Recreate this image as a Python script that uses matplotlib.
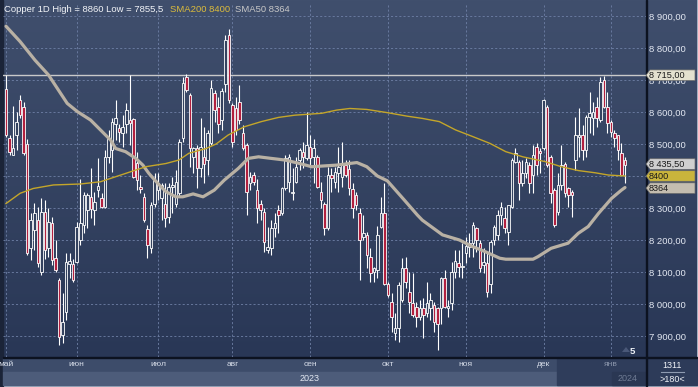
import matplotlib
matplotlib.use('Agg')
import matplotlib.pyplot as plt
import numpy as np
from matplotlib.patches import Rectangle, Polygon

plt.rcParams['font.family'] = ['Liberation Sans', 'DejaVu Sans']

# ---------------- data ----------------
opens = [8671, 8518, 8466, 8528, 8637, 8617, 8499, 8174, 8231, 8264,
         8101, 8288, 8174, 8254, 8143, 8075, 7903, 7976, 8125, 8125,
         8132, 8200, 8247, 8294, 8335, 8294, 8356, 8330, 8304, 8460,
         8481, 8564, 8549, 8533, 8564, 8575, 8578, 8440, 8367, 8335,
         8233, 8174, 8314, 8356, 8330, 8314, 8273, 8366, 8314, 8346,
         8518, 8710, 8653, 8460, 8486, 8424, 8460, 8450, 8502, 8658,
         8616, 8575, 8689, 8840, 8622, 8611, 8632, 8533, 8497, 8377,
         8403, 8356, 8314, 8288, 8169, 8174, 8236, 8293, 8283, 8361,
         8380, 8346, 8382, 8450, 8476, 8455, 8491, 8460, 8460, 8351,
         8312, 8236, 8403, 8382, 8408, 8398, 8434, 8421, 8359, 8340,
         8283, 8210, 8215, 8148, 8101, 8106, 8241, 8283, 8062, 8005,
         7908, 7924, 8012, 8111, 8038, 8002, 7991, 7960, 7986, 7971,
         7986, 7997, 7986, 7986, 8080, 7986, 8002, 8101, 8129, 8116,
         8158, 8179, 8190, 8238, 8190, 8122, 8127, 8064, 8200, 8216,
         8278, 8268, 8226, 8304, 8445, 8445, 8377, 8408, 8434, 8403,
         8491, 8479, 8486, 8617, 8460, 8356, 8288, 8372, 8439, 8361,
         8349, 8450, 8523, 8528, 8481, 8585, 8580, 8617, 8575, 8700,
         8617, 8570, 8533, 8528, 8471, 8450]
highs = [8715, 8528, 8620, 8601, 8653, 8632, 8516, 8283, 8315, 8304,
         8330, 8325, 8299, 8273, 8200, 8080, 8033, 8158, 8158, 8142,
         8257, 8392, 8351, 8346, 8424, 8351, 8455, 8346, 8481, 8544,
         8580, 8637, 8564, 8590, 8627, 8715, 8580, 8476, 8403, 8346,
         8247, 8320, 8408, 8408, 8377, 8377, 8377, 8398, 8418, 8517,
         8710, 8720, 8658, 8491, 8497, 8580, 8554, 8544, 8700, 8669,
         8648, 8674, 8840, 8860, 8627, 8648, 8684, 8559, 8502, 8413,
         8413, 8392, 8325, 8299, 8241, 8262, 8283, 8309, 8366, 8465,
         8470, 8424, 8460, 8486, 8507, 8601, 8528, 8517, 8466, 8382,
         8320, 8429, 8424, 8429, 8491, 8507, 8450, 8450, 8377, 8351,
         8299, 8278, 8226, 8174, 8117, 8243, 8335, 8377, 8069, 8033,
         7971, 8069, 8143, 8148, 8101, 8096, 8007, 8012, 8018, 8070,
         8033, 8007, 7991, 8085, 8106, 8012, 8132, 8169, 8169, 8190,
         8210, 8221, 8257, 8241, 8200, 8174, 8158, 8200, 8247, 8294,
         8320, 8304, 8309, 8455, 8486, 8450, 8450, 8455, 8445, 8497,
         8502, 8486, 8642, 8622, 8466, 8361, 8408, 8497, 8445, 8366,
         8356, 8585, 8611, 8559, 8590, 8663, 8632, 8648, 8710, 8712,
         8663, 8575, 8544, 8528, 8502, 8460]
lows = [8523, 8466, 8466, 8481, 8580, 8466, 8153, 8137, 8169, 8117,
        8090, 8142, 8148, 8122, 8101, 7872, 7877, 7950, 8080, 8070,
        8127, 8184, 8221, 8236, 8268, 8247, 8335, 8299, 8299, 8440,
        8413, 8512, 8507, 8491, 8533, 8497, 8393, 8356, 8346, 8257,
        8143, 8158, 8304, 8325, 8262, 8241, 8252, 8283, 8304, 8335,
        8507, 8663, 8429, 8408, 8361, 8398, 8377, 8403, 8497, 8570,
        8533, 8544, 8663, 8627, 8491, 8528, 8564, 8481, 8278, 8356,
        8372, 8252, 8262, 8163, 8158, 8153, 8210, 8221, 8278, 8356,
        8351, 8325, 8377, 8418, 8424, 8450, 8429, 8377, 8361, 8299,
        8215, 8231, 8351, 8361, 8351, 8367, 8398, 8340, 8268, 8294,
        8075, 8200, 8111, 8069, 8069, 8080, 8236, 8059, 8023, 7913,
        7887, 7882, 8007, 8049, 7971, 7960, 7929, 7950, 7893, 7960,
        7950, 7913, 7855.5, 7939, 7986, 7960, 7981, 8080, 8085, 8080,
        8127, 8148, 8148, 8163, 8101, 8096, 8023, 8033, 8184, 8200,
        8247, 8221, 8184, 8299, 8440, 8325, 8370, 8395, 8346, 8346,
        8403, 8408, 8481, 8429, 8315, 8241, 8278, 8356, 8335, 8304,
        8273, 8418, 8460, 8450, 8460, 8533, 8528, 8554, 8570, 8611,
        8533, 8523, 8491, 8450, 8403, 8377]
closes = [8528, 8476, 8486, 8570, 8590, 8471, 8158, 8262, 8283, 8129,
          8288, 8168, 8257, 8139, 8106, 7898, 7945, 8132, 8133, 8075,
          8242, 8254, 8340, 8340, 8296, 8320, 8369, 8304, 8460, 8517,
          8570, 8580, 8538, 8554, 8606, 8567, 8398, 8387, 8358, 8262,
          8184, 8309, 8387, 8377, 8372, 8268, 8366, 8371, 8382, 8507,
          8690, 8668, 8486, 8486, 8424, 8491, 8439, 8533, 8674, 8606,
          8564, 8666, 8825, 8637, 8507, 8544, 8575, 8486, 8351, 8397,
          8382, 8299, 8294, 8195, 8177, 8236, 8254, 8278, 8361, 8455,
          8460, 8351, 8429, 8481, 8460, 8497, 8455, 8486, 8367, 8325,
          8236, 8403, 8393, 8413, 8429, 8434, 8403, 8361, 8299, 8309,
          8200, 8221, 8153, 8096, 8111, 8215, 8283, 8064, 8028, 7960,
          7924, 8059, 8111, 8069, 8007, 7965, 7960, 7986, 7966, 8002,
          8012, 7945, 7939, 8080, 7991, 7993, 8101, 8134, 8117, 8119,
          8182, 8190, 8247, 8200, 8111, 8132, 8038, 8195, 8241, 8278,
          8304, 8236, 8309, 8450, 8471, 8377, 8408, 8445, 8377, 8465,
          8434, 8471, 8637, 8434, 8346, 8247, 8372, 8434, 8346, 8340,
          8340, 8528, 8528, 8481, 8585, 8596, 8601, 8580, 8695, 8617,
          8565, 8538, 8518, 8481, 8403, 8435.5]

sma50_idx = [0, 4, 8.2, 12, 17.3, 20.2, 23.9, 26.7, 29.6, 31, 33.8, 36.7, 38.7,
             40.4, 42.9, 45.2, 48, 50, 52.9, 55.7, 58.9, 61.7, 65.7, 68.5, 71.4,
             75, 78.8, 82.7, 86.4, 93.5, 99.2, 102, 105, 107.8, 112.6, 116.3,
             117.7, 123.4, 128.2, 132, 135.6, 139.6, 141.3, 149, 150.4, 154.1,
             158.9, 161.8, 164.6, 167.5, 171.2, 174, 175]
sma50_val = [8868, 8820, 8762, 8716, 8627, 8601, 8575, 8544, 8512, 8486, 8476,
             8455, 8434, 8408, 8377, 8351, 8335, 8335, 8344, 8335, 8356, 8387,
             8424, 8455, 8460, 8455, 8450, 8440, 8429, 8434, 8442, 8429, 8400,
             8385, 8325, 8278, 8262, 8216, 8200, 8179, 8163, 8143, 8140, 8140,
             8148, 8174, 8190, 8221, 8242, 8283, 8330, 8356, 8364]
sma200_idx = [0, 4, 7.7, 13.4, 21, 26.7, 33.8, 39.5, 45.2, 48.9, 51.7, 56.6,
              59.4, 62.8, 67.4, 72.2, 77, 81.6, 89.3, 93.5, 97.2, 102, 107.8,
              113.4, 117.7, 122.5, 127.1, 132, 136.8, 141.3, 146.1, 149, 152.4,
              157, 161.8, 166.6, 170.3, 175]
sma200_val = [8314, 8346, 8361, 8372, 8375, 8382, 8408, 8429, 8439, 8450, 8471,
              8486, 8500, 8528, 8554, 8570, 8583, 8590, 8596, 8606, 8611, 8608,
              8598, 8587, 8580, 8570, 8544, 8523, 8502, 8476, 8460, 8453, 8445,
              8429, 8417, 8410, 8403, 8400]

month_pos = [0, 20, 43, 64, 86, 108, 130, 152, 171]
month_labels = ['май', 'июн', 'июл', 'авг', 'сен', 'окт', 'ноя', 'дек', 'янв']
price_ticks = [7900, 8000, 8100, 8200, 8300, 8400, 8500, 8600, 8700, 8800, 8900]
level_line = 8715

# ---------------- layout ----------------
W, H = 698, 387
fig = plt.figure(figsize=(W / 100, H / 100), dpi=100)
fig.patch.set_facecolor('#a3afc0')

bg = fig.add_axes([0, 0, 1, 1], zorder=0)
bg.set_xlim(0, W)
bg.set_ylim(H, 0)
bg.axis('off')

grad = np.linspace(0, 1, 256)[:, None]
top_c = np.array([64, 79, 109]) / 255
bot_c = np.array([41, 55, 86]) / 255
img = top_c[None, None, :] * (1 - grad[..., None]) + bot_c[None, None, :] * grad[..., None]
img = np.repeat(img, 2, axis=1)
bg.imshow(img, extent=[0, 697, 357, 0], aspect='auto', zorder=0)
bg.add_patch(Rectangle((0, 0), 2.5, 386, color='#1b2438', zorder=1))
bg.add_patch(Rectangle((645.5, 0), 1.6, 386, color='#0c1220', zorder=2))
bg.add_patch(Rectangle((2.5, 356.6), 694, 1.6, color='#0c1220', zorder=2))
bg.add_patch(Rectangle((2.5, 358), 643, 14, color='#3d4c6a', zorder=1))
bg.add_patch(Rectangle((2.5, 372), 643, 13, color='#4d5c7a', zorder=1))
bg.add_patch(Rectangle((557, 358), 88.5, 27, color='#2f3d5b', zorder=1.5))
bg.add_patch(Rectangle((612, 372), 33.5, 13, color='#2a3753', zorder=1.6))
bg.add_patch(Rectangle((647, 358), 50, 27, color='#2d3b59', zorder=1))
bg.plot([661, 684], [372, 372], color='#8e9bb2', lw=0.8, zorder=3)

# ---------------- main axes ----------------
L, R, T, B = 3, 646, 3, 357
ax = fig.add_axes([L / W, 1 - B / H, (R - L) / W, (B - T) / H], zorder=2)
ax.patch.set_alpha(0)
n = len(closes)
x = np.arange(n)
step = (625 - 6) / (n - 1)
ax.set_xlim(-(6 - L) / step, (R - 6) / step)
ppu = 32 / 100.0
ax.set_ylim(8900 - (B - 16) / ppu, 8900 + (16 - T) / ppu)
for s in ax.spines.values():
    s.set_visible(False)

for v in price_ticks:
    ax.axhline(v, color='#6f80a6', lw=0.6, dashes=(2.5, 2.5), zorder=1)
for p in month_pos:
    ax.axvline(p, color='#6f80a6', lw=0.6, dashes=(2.5, 2.5), zorder=1)

ax.axhline(level_line, color='#c9c9c9', lw=1.0, zorder=2)

bw = 0.72
for i in range(n):
    o, h, l, c = opens[i], highs[i], lows[i], closes[i]
    ax.plot([x[i], x[i]], [l, h], color='white', lw=0.8, zorder=3, solid_capstyle='butt')
    lo, hi = min(o, c), max(o, c)
    face = '#34425f' if c >= o else '#b2203f'
    ax.add_patch(Rectangle((x[i] - bw / 2, lo), bw, max(hi - lo, 3),
                           facecolor=face, edgecolor='white', lw=0.6, zorder=4))

ax.plot(sma50_idx, sma50_val, color='#b9b1a4', lw=2.3, zorder=5, solid_capstyle='round')
ax.plot(sma200_idx, sma200_val, color='#c4a62a', lw=1.0, zorder=5)


def fmt2(v):
    return f"{v:,.2f}".replace(',', ' ').replace('.', ',')


# right price labels (8400 is fully hidden under the SMA200 tag in the reference)
ax.yaxis.tick_right()
ax.set_yticks(price_ticks)
ax.set_yticklabels(['' if v == 8400 else fmt2(v) for v in price_ticks],
                   fontsize=6.8, color='#e3e8f2')
ax.tick_params(axis='y', length=0, pad=2.5)
ax.set_xticks([])

# ---------------- overlay ----------------
ov = fig.add_axes([0, 0, 1, 1], zorder=5)
ov.set_xlim(0, W)
ov.set_ylim(H, 0)
ov.axis('off')


def ypx(v):
    return H - ax.transData.transform((0, v))[1]


def tag(yc, text, face, tcol='#1a1a1a'):
    x0, x1, hh = 646, 695, 5.3
    pts = [(x0, yc), (x0 + 4, yc - hh), (x1, yc - hh), (x1, yc + hh), (x0 + 4, yc + hh)]
    ov.add_patch(Polygon(pts, closed=True, facecolor=face, edgecolor='#6b6b6b', lw=0.5))
    ov.text(x0 + 3, yc + 0.3, text, fontsize=6.6, color=tcol, va='center', ha='left')


tag(ypx(level_line), fmt2(level_line), '#e4e1cf')
tag(ypx(closes[-1]) - 0.6, fmt2(closes[-1]), '#cfcfcf')
tag(ypx(sma200_val[-1]), f"{sma200_val[-1]}", '#c9b43c')
tag(ypx(sma50_val[-1]) + 0.6, f"{sma50_val[-1]}", '#c4bdb0')


def fmtv(v):
    return f"{v:g}".replace('.', ',')


ov.text(4, 9.5, f"Copper 1D High = {fmtv(max(highs))} Low = {fmtv(min(lows))}",
        fontsize=6.8, color='#f2f4f8', va='center')
ov.text(170, 9.5, f"SMA200 {sma200_val[-1]}", fontsize=6.8, color='#dcbc3c', va='center')
ov.text(235, 9.5, f"SMA50 {sma50_val[-1]}", fontsize=6.8, color='#c8c8c8', va='center')

for p, lab in zip(month_pos, month_labels):
    xp = ax.transData.transform((p, 0))[0]
    col = '#8994aa' if lab == 'янв' else '#d6dce8'
    t = ov.text(xp, 365, lab, fontsize=6, color=col, ha='center', va='center')
    t.set_clip_path(Rectangle((2.5, 358), 643, 27, transform=ov.transData))
ov.text(310, 378.5, '2023', fontsize=6.5, color='#e3e8f2', ha='center', va='center')
ov.text(628, 378.5, '2024', fontsize=6.5, color='#6f7b93', ha='center', va='center')
ov.text(672, 365, '1311', fontsize=6.5, color='#f0f3f8', ha='center', va='center')
ov.text(672, 379, '>180<', fontsize=6.5, color='#f0f3f8', ha='center', va='center')
ov.text(632, 351, '5', fontsize=6.8, color='#f0f3f8', ha='center', va='center', fontweight='bold')
ov.add_patch(Polygon([(622, 352), (626, 347), (630, 352)], closed=True,
                     facecolor='#4a5878', edgecolor='none'))

fig.savefig('out.png', dpi=100)
